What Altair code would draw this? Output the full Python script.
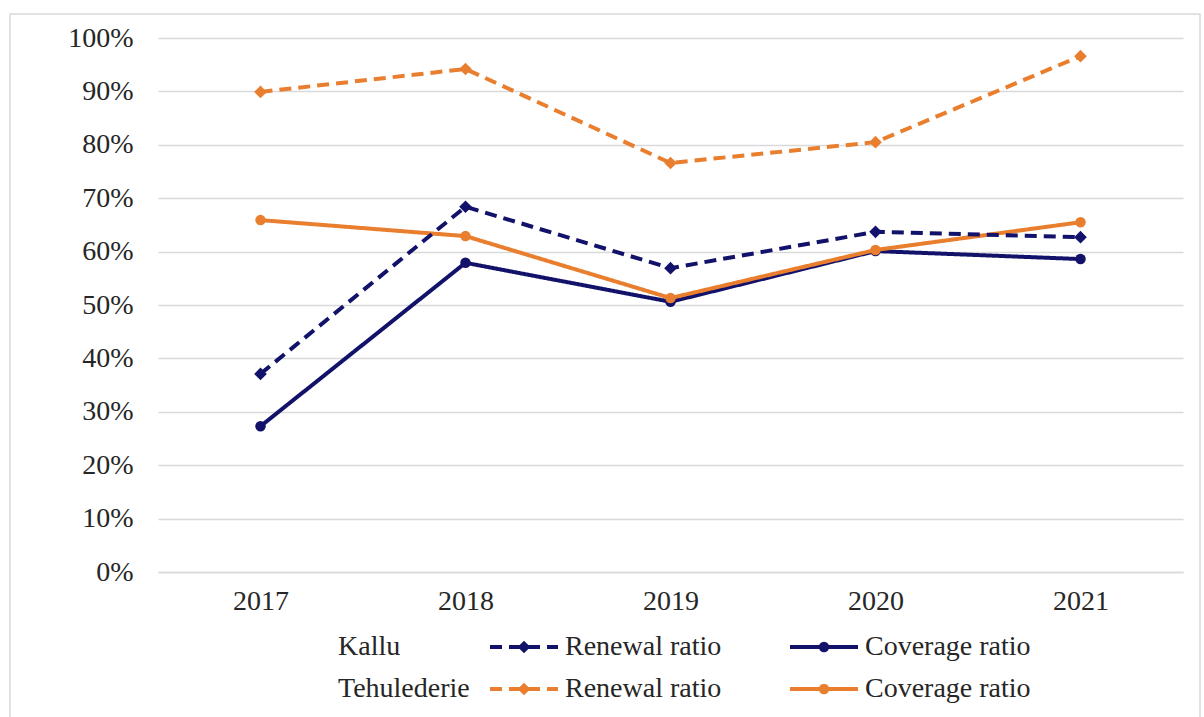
import altair as alt
import pandas as pd

years = ["2017", "2018", "2019", "2020", "2021"]
kallu_renewal = [37.1, 68.4, 56.9, 63.7, 62.7]
kallu_coverage = [27.3, 57.9, 50.6, 60.1, 58.6]
teh_renewal = [89.9, 94.2, 76.6, 80.5, 96.6]
teh_coverage = [65.9, 62.9, 51.3, 60.3, 65.5]

series = [
    ("Tehulederie", "Renewal ratio", teh_renewal),
    ("Kallu", "Coverage ratio", kallu_coverage),
    ("Tehulederie", "Coverage ratio", teh_coverage),
    ("Kallu", "Renewal ratio", kallu_renewal),
]

NAVY = "#12126b"
ORANGE = "#E87E2E"
FONT = "Liberation Serif"
FS = 28
TXT = "#262626"
DASH = [12, 7]
LW = 4

rows = []
for order, (site, kind, vals) in enumerate(series):
    for y, v in zip(years, vals):
        rows.append({"year": y, "value": v / 100.0, "site": site, "kind": kind,
                     "series": f"{site} {kind}", "order": order})
df = pd.DataFrame(rows)

W, H = 1025, 534
LEFT, TOP = 158, 38

x_enc = alt.X("year:N", sort=years, title=None,
              scale=alt.Scale(paddingInner=1, paddingOuter=0.5),
              axis=alt.Axis(labelAngle=0, ticks=False, domain=True, domainColor="#d9d9d9",
                            domainWidth=1.5, labelPadding=15, labelFontSize=FS,
                            labelFont=FONT, labelColor=TXT, grid=False))
y_enc = alt.Y("value:Q", title=None,
              scale=alt.Scale(domain=[0, 1], nice=False),
              axis=alt.Axis(format=".0%", values=[i / 10 for i in range(11)], ticks=False,
                            domain=False, labelPadding=25, labelFontSize=FS, labelFont=FONT,
                            labelColor=TXT, grid=True, gridColor="#d9d9d9", gridWidth=1.5))

color_scale = alt.Scale(domain=["Kallu", "Tehulederie"], range=[NAVY, ORANGE])
dash_scale = alt.Scale(domain=["Renewal ratio", "Coverage ratio"], range=[DASH, [1, 0]])
shape_scale = alt.Scale(domain=["Renewal ratio", "Coverage ratio"], range=["diamond", "circle"])
size_scale = alt.Scale(domain=["Renewal ratio", "Coverage ratio"], range=[160, 110])

layers = []
for site, kind, vals in series:
    sub = df[df["series"] == f"{site} {kind}"]
    base = alt.Chart(sub)
    line = base.mark_line(strokeWidth=LW).encode(
        x=x_enc, y=y_enc,
        color=alt.Color("site:N", scale=color_scale, legend=None),
        strokeDash=alt.StrokeDash("kind:N", scale=dash_scale, legend=None),
    )
    pts = base.mark_point(filled=True, opacity=1).encode(
        x=x_enc, y=y_enc,
        color=alt.Color("site:N", scale=color_scale, legend=None),
        shape=alt.Shape("kind:N", scale=shape_scale, legend=None),
        size=alt.Size("kind:N", scale=size_scale, legend=None),
    )
    layers += [line, pts]

# border around the whole figure
one = pd.DataFrame({"a": [0]})
border = alt.Chart(one).mark_rect(fill=None, stroke="#d9d9d9", strokeWidth=1.5).encode(
    x=alt.value(10 - LEFT), x2=alt.value(1200 - LEFT),
    y=alt.value(14 - TOP), y2=alt.value(720 - TOP))

# custom legend
leg = []
legend_rows = [("Kallu", NAVY, 647), ("Tehulederie", ORANGE, 689)]
for name, col, yy in legend_rows:
    ry = yy - TOP
    leg.append(alt.Chart(one).mark_text(align="left", baseline="middle", font=FONT,
                                         fontSize=FS, color=TXT).encode(
        x=alt.value(338 - LEFT), y=alt.value(ry), text=alt.value(name)))
    for kind, x0, shape, dash, sz in [("Renewal ratio", 490, "diamond", DASH, 160),
                                      ("Coverage ratio", 790, "circle", [1, 0], 110)]:
        leg.append(alt.Chart(one).mark_rule(color=col, strokeWidth=LW, strokeDash=dash).encode(
            x=alt.value(x0 - LEFT), x2=alt.value(x0 + 68 - LEFT), y=alt.value(ry)))
        leg.append(alt.Chart(one).mark_point(filled=True, opacity=1, size=sz, shape=shape,
                                             color=col).encode(
            x=alt.value(x0 + 34 - LEFT), y=alt.value(ry)))
        leg.append(alt.Chart(one).mark_text(align="left", baseline="middle", font=FONT,
                                             fontSize=FS, color=TXT).encode(
            x=alt.value(x0 + 75 - LEFT), y=alt.value(ry), text=alt.value(kind)))

chart = alt.layer(border, *layers, *leg).properties(
    width=W, height=H,
    autosize=alt.AutoSizeParams(type="none"),
    padding={"left": LEFT, "top": TOP, "right": 1204 - LEFT - W, "bottom": 717 - TOP - H},
).configure(background="white", font=FONT, view=alt.ViewConfig(stroke=None))

chart.save("out.html", embed_options={"renderer": "svg", "actions": False})
